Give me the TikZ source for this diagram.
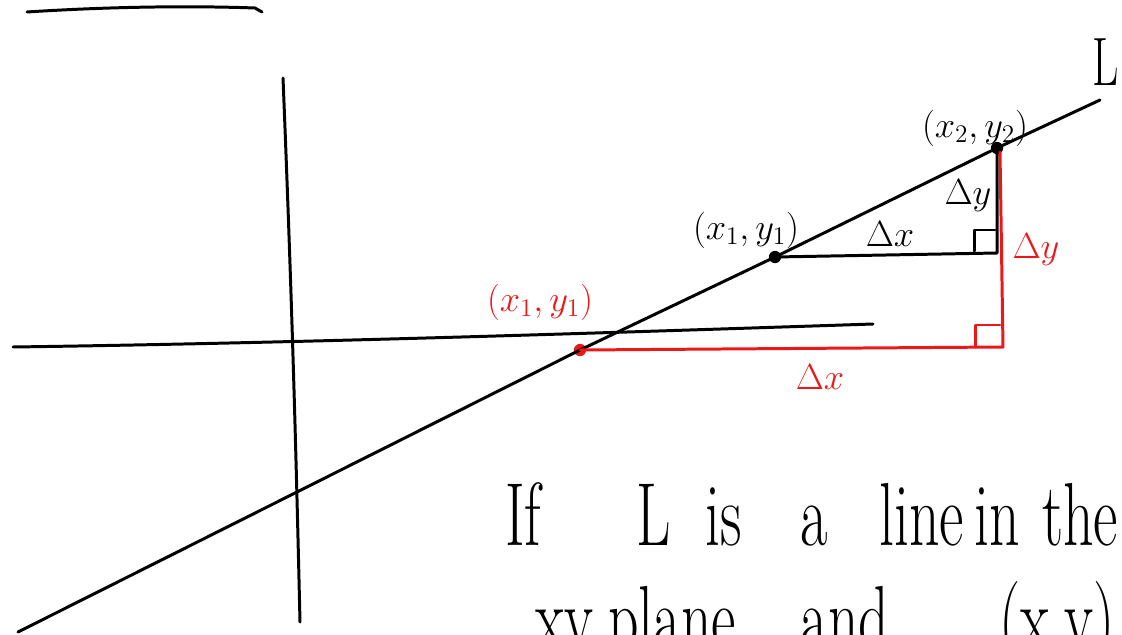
\documentclass[tikz,border=0pt]{standalone}
\usepackage{amsmath}
\usepackage{graphicx}
\usepackage{xcolor}
\usetikzlibrary{positioning}
\definecolor{penred}{RGB}{236,24,24}
\newcommand{\bigtext}{\fontsize{34}{40}\selectfont}
\newcommand{\tallhand}[1]{\scalebox{1}[1.5]{#1}}
\tikzset{
  ink/.style={line width=1.7pt,line cap=round,line join=round},
  pendot/.style={circle,fill,inner sep=0pt,minimum size=7pt},
  lab/.style={font=\huge,inner sep=1pt},
  hand/.style={anchor=base west,inner sep=0pt,font=\bigtext}
}

\begin{document}
\begin{tikzpicture}[x=0.02cm,y=-0.02cm]
  \useasboundingbox (0,0) rectangle (1122,635);
  \clip (0,0) rectangle (1122,635);

  % stray stroke at the top left
  \draw[ink] (27,12) .. controls (120,6) and (200,6) .. (255,8) -- (262,12);

  % axes
  \coordinate (ytop) at (283,78);
  \coordinate (ybot) at (300,622);
  \coordinate (xleft) at (13,347);
  \coordinate (xright) at (873,324);
  \draw[ink] (ytop) .. controls (292,300) and (296,450) .. (ybot);
  \draw[ink] (xleft) .. controls (300,343) and (600,333) .. (xright);

  % the line L and its points
  \coordinate (lstart) at (18,632);
  \coordinate (lend) at (1100,100);
  \node[pendot,penred] (pr) at (580,350) {};
  \node[pendot] (pa) at (775,257) {};
  \node[pendot] (pb) at (997,148) {};
  \draw[ink] (lstart) -- (pr.center) -- (pa.center) -- (pb.center) -- (lend);
  \node[font=\fontsize{26}{30}\selectfont,inner sep=0pt] (ell) at (1106,62) {\tallhand{L}};

  % black triangle
  \coordinate (ca) at (997,253);
  \draw[ink] (pa.center) -- (ca) -- (pb.center);
  \draw[ink] (ca) ++(-23,-2) -- ++(0,-21) -- ++(21,0);
  \node[lab] (pal) at (746,230) {$(x_1,y_1)$};
  \node[lab] (pbl) at (975,128) {$(x_2,y_2)$};
  \node[lab] (dxa) at (890,234) {$\Delta x$};
  \node[lab] (dya) at (968,196) {$\Delta y$};

  % red triangle
  \coordinate (cr) at (1003,347);
  \coordinate (rtop) at (1000,152);
  \draw[ink,penred] (pr.center) -- (cr) -- (rtop);
  \draw[ink,penred] (cr) ++(-28,0) -- ++(0,-22) -- ++(25,0);
  \node[lab,penred] (prl) at (540,302) {$(x_1,y_1)$};
  \node[lab,penred] (dxr) at (820,377) {$\Delta x$};
  \node[lab,penred] (dyr) at (1036,250) {$\Delta y$};

  % statement
  \node[hand] (line1) at (505,545) {\tallhand{If\hspace{1.9cm}L\hspace{0.7cm}is\hspace{1.16cm}a\hspace{1.04cm}line\hspace{0.2cm}in\hspace{0.45cm}the}};
  \node[hand] (line2) at (535,648) {\tallhand{xy\hspace{0.3cm}plane\hspace{1.3cm}and\hspace{2.2cm}(x,y)}};
\end{tikzpicture}
\end{document}
